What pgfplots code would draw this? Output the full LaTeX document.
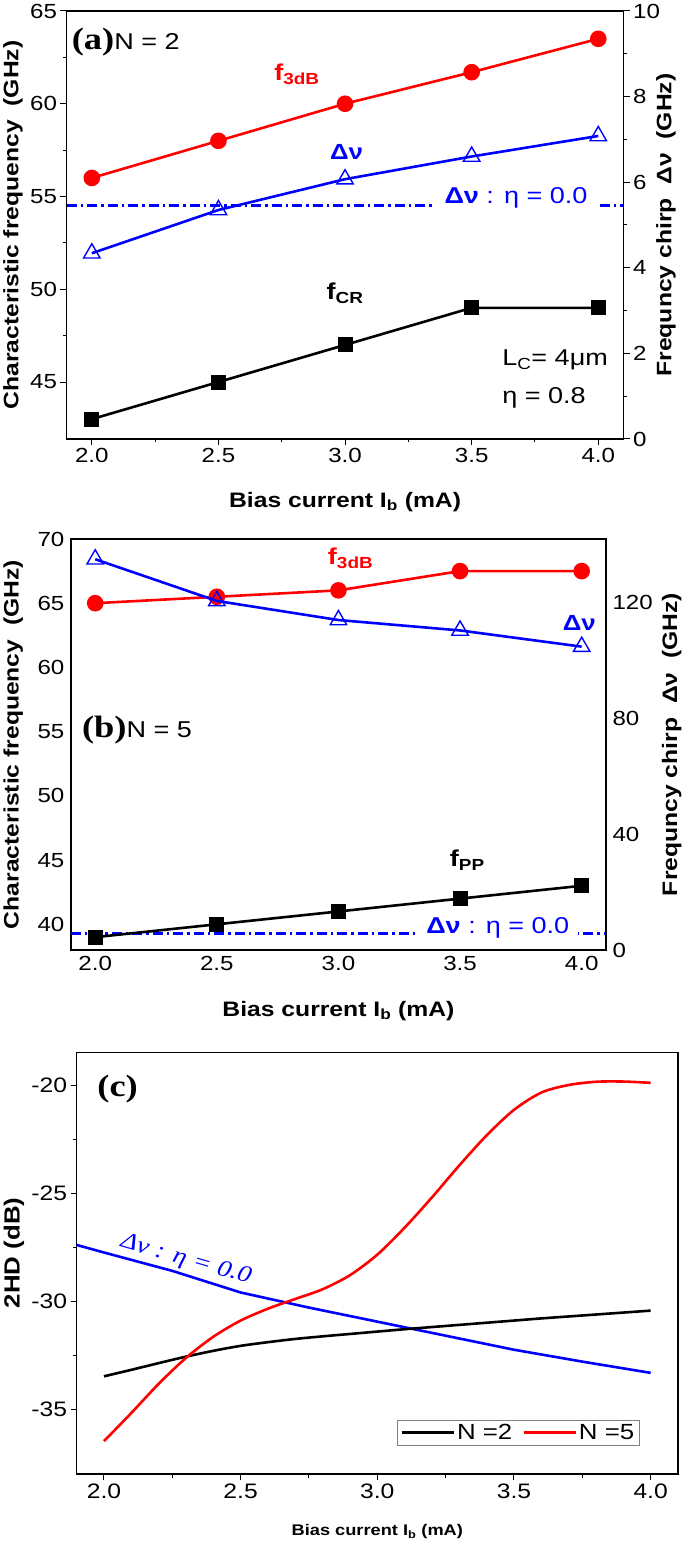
\documentclass[border=0pt]{standalone}
\usepackage{fontspec}
\setmainfont{Liberation Sans}[FakeStretch=1.18]
\newfontfamily\tms{Liberation Serif}[FakeStretch=1.18]
\usepackage{pgfplots}
\pgfplotsset{compat=1.18}
\newcommand{\fs}[1]{\fontsize{#1}{#1}\selectfont}
\definecolor{cred}{RGB}{255,0,0}
\definecolor{cblue}{RGB}{0,0,255}
\pgfplotsset{
  base/.style={scale only axis, anchor=south west,
    xmin=1.9, xmax=4.1, xtick={2,2.5,3,3.5,4},
    /pgf/number format/assume math mode=true,
    x tick label style={/pgf/number format/.cd, fixed, fixed zerofill, precision=1, /tikz/.cd},
    tick align=outside, major tick length=6bp, minor tick length=3.5bp,
    major tick style={line width=1bp, black}, minor tick style={line width=1bp, black},
    axis line style={-, line width=1.3bp},
    label style={font=\bfseries\fs{21}},
  },
  dat/.style={line width=2.6bp},
}
\begin{document}
\begin{tikzpicture}
\useasboundingbox (0,0) rectangle (685bp,1544bp);

% ================= Panel (a) =================
\begin{axis}[base, at={(66.5bp,1105bp)}, width=557.1bp, height=428bp,
  ymin=41.93, ymax=65, ytick={45,50,55,60,65}, minor y tick num=1, minor x tick num=1,
  xtick pos=left, ytick pos=left,
  tick label style={font=\fs{20.5}},
  xlabel={Bias current I\textsubscript{b} (mA)},
  ylabel={Characteristic frequency\ \ (GHz)},
  xlabel style={at={(axis description cs:0.5,-0.147)}, anchor=center},
  ylabel style={at={(axis description cs:-0.096,0.5)}, anchor=center},
]
\addplot[dat, cblue, dash pattern=on 10bp off 4bp on 2.5bp off 4bp] coordinates {(1.9,54.5) (4.1,54.5)};
\addplot[dat, cred, mark=*, mark size=7bp] coordinates {(2.0,56.0) (2.5,58.0) (3.0,60.0) (3.5,61.7) (4.0,63.5)};
\addplot[dat, black, mark=square*, mark size=6.2bp] coordinates {(2.0,43.0) (2.5,45.0) (3.0,47.0) (3.5,49.0) (4.0,49.0)};
\node[fill=white, text=cblue, inner xsep=9bp, inner ysep=1bp, font=\fs{23}] at (axis cs:3.675,54.9) {{\bfseries Δν} : η = 0.0};
\node[text=cred, font=\bfseries\fs{23}] at (axis cs:2.81,61.6) {f\textsubscript{3dB}};
\node[text=cblue, font=\bfseries\fs{22}] at (axis cs:3.006,57.4) {Δν};
\node[font=\bfseries\fs{23}] at (axis cs:3.0,49.8) {f\textsubscript{CR}};
\node[anchor=west, inner sep=0pt, font=\fs{23}] at (axis cs:3.62,46.2) {L\textsubscript{C}= 4μm};
\node[anchor=west, inner sep=0pt, font=\fs{23}] at (axis cs:3.62,44.13) {η = 0.8};
\node[anchor=west, inner sep=0pt] at (axis cs:1.92,63.35) {{\tms\bfseries\fs{31}(a)}{\fs{23}N = 2}};
\end{axis}
\begin{axis}[base, at={(66.5bp,1105bp)}, width=557.1bp, height=428bp,
  axis x line=none, axis y line*=right,
  ymin=0, ymax=10, ytick={0,2,4,6,8,10}, minor y tick num=1,
  tick label style={font=\fs{20.5}},
  ylabel={Frequncy chirp\ \ Δν\ \ (GHz)},
  ylabel style={at={(axis description cs:1.076,0.5)}, anchor=center, rotate=0},
]
\addplot[dat, cblue, mark=triangle, mark size=9.5bp, mark options={solid, fill=white, line width=1.4bp}] coordinates {(2.0,4.34) (2.5,5.35) (3.0,6.07) (3.5,6.6) (4.0,7.08)};
\end{axis}

% ================= Panel (b) =================
\begin{axis}[base, at={(70.9bp,594bp)}, width=535.1bp, height=411bp,
  ymin=38, ymax=70, ytick={40,45,50,55,60,65,70},
  xtick pos=left, ytick pos=left, major tick length=0pt,
  tick label style={font=\fs{20.5}},
  yticklabel style={xshift=-3bp}, xticklabel style={yshift=-3bp},
  xlabel={Bias current I\textsubscript{b} (mA)},
  ylabel={Characteristic frequency\ \ (GHz)},
  xlabel style={at={(axis description cs:0.5,-0.148)}, anchor=center},
  ylabel style={at={(axis description cs:-0.108,0.5)}, anchor=center},
]
\addplot[dat, cblue, dash pattern=on 10bp off 4bp on 2.5bp off 4bp] coordinates {(1.9,39.3) (4.1,39.3)};
\addplot[dat, cred, mark=*, mark size=7bp] coordinates {(2.0,65.0) (2.5,65.5) (3.0,66.0) (3.5,67.5) (4.0,67.5)};
\addplot[dat, black, mark=square*, mark size=6.2bp] coordinates {(2.0,39.0) (2.5,40.0) (3.0,41.0) (3.5,42.0) (4.0,43.0)};
\node[fill=white, text=cblue, inner xsep=9bp, inner ysep=1bp, font=\fs{23}] at (axis cs:3.655,39.7) {{\bfseries Δν} : η = 0.0};
\node[text=cred, font=\bfseries\fs{23}] at (axis cs:3.05,68.5) {f\textsubscript{3dB}};
\node[text=cblue, font=\bfseries\fs{22}] at (axis cs:3.99,63.43) {Δν};
\node[font=\bfseries\fs{23}] at (axis cs:3.53,45.0) {f\textsubscript{PP}};
\node[anchor=west, inner sep=0pt] at (axis cs:1.945,55.1) {{\tms\bfseries\fs{31}(b)}{\fs{23}N = 5}};
\end{axis}
\begin{axis}[base, at={(70.9bp,594bp)}, width=535.1bp, height=411bp,
  axis x line=none, axis y line*=right, major tick length=0pt,
  ymin=0, ymax=142, ytick={0,40,80,120},
  tick label style={font=\fs{20.5}}, yticklabel style={xshift=3bp},
  ylabel={Frequncy chirp\ \ Δν\ \ (GHz)},
  ylabel style={at={(axis description cs:1.123,0.5)}, anchor=center, rotate=0},
]
\addplot[dat, cblue, mark=triangle, mark size=9.5bp, mark options={solid, fill=white, line width=1.4bp}] coordinates {(2.0,135.0) (2.5,120.6) (3.0,114.0) (3.5,110.4) (4.0,104.8)};
\end{axis}

% ================= Panel (c) =================
\begin{axis}[base, at={(76.6bp,70bp)}, width=601.4bp, height=421.4bp,
  ymin=-38, ymax=-18.5, ytick={-35,-30,-25,-20}, minor y tick num=1, minor x tick num=1,
  xtick pos=left, ytick pos=left,
  tick label style={font=\fs{21}},
  xlabel={Bias current I\textsubscript{b} (mA)},
  ylabel={2HD (dB)},
  xlabel style={at={(axis description cs:0.5,-0.137)}, anchor=center, font=\bfseries\fs{15.5}},
  ylabel style={at={(axis description cs:-0.104,0.525)}, anchor=center, font=\bfseries\fs{22}},
  legend columns=2,
  legend style={at={(axis cs:3.96,-35.5)}, anchor=north east, draw=gray, line width=0.8bp,
    font=\fs{22}, inner xsep=3bp, inner ysep=2bp, /tikz/every even column/.append style={column sep=8bp}},
  legend image code/.code={\draw[#1] (0bp,0bp) -- (52bp,0bp);},
]
\addplot[dat, cblue, forget plot] coordinates {(1.9,-27.4) (2.0,-27.75) (2.25,-28.6) (2.5,-29.6) (2.75,-30.3) (3.0,-30.95) (3.25,-31.6) (3.5,-32.25) (3.75,-32.8) (4.0,-33.32)};
\addplot[dat, black, smooth] coordinates {(2.0,-33.48) (2.1,-33.18) (2.2,-32.87) (2.3,-32.57) (2.4,-32.3) (2.5,-32.07) (2.6,-31.9) (2.7,-31.75) (2.8,-31.63) (2.9,-31.52) (3.0,-31.41) (3.1,-31.3) (3.2,-31.2) (3.3,-31.1) (3.4,-31.0) (3.5,-30.9) (3.6,-30.8) (3.7,-30.71) (3.8,-30.62) (3.9,-30.53) (4.0,-30.44)};
\addlegendentry{N =2}
\addplot[dat, cred, smooth] coordinates {(2.0,-36.48) (2.1,-35.18) (2.2,-33.83) (2.3,-32.63) (2.4,-31.65) (2.5,-30.9) (2.6,-30.35) (2.7,-29.9) (2.8,-29.45) (2.9,-28.8) (3.0,-27.85) (3.1,-26.6) (3.2,-25.2) (3.3,-23.72) (3.4,-22.33) (3.5,-21.15) (3.6,-20.35) (3.7,-20.0) (3.8,-19.85) (3.9,-19.84) (4.0,-19.9)};
\addlegendentry{N =5}
\node[text=cblue, rotate=-16, font=\tms\itshape\fs{23.5}] at (axis cs:2.30,-28.1) {Δν : η = 0.0};
\node[font=\tms\bfseries\fs{31}] at (axis cs:2.05,-20.2) {(c)};
\end{axis}
\end{tikzpicture}
\end{document}
